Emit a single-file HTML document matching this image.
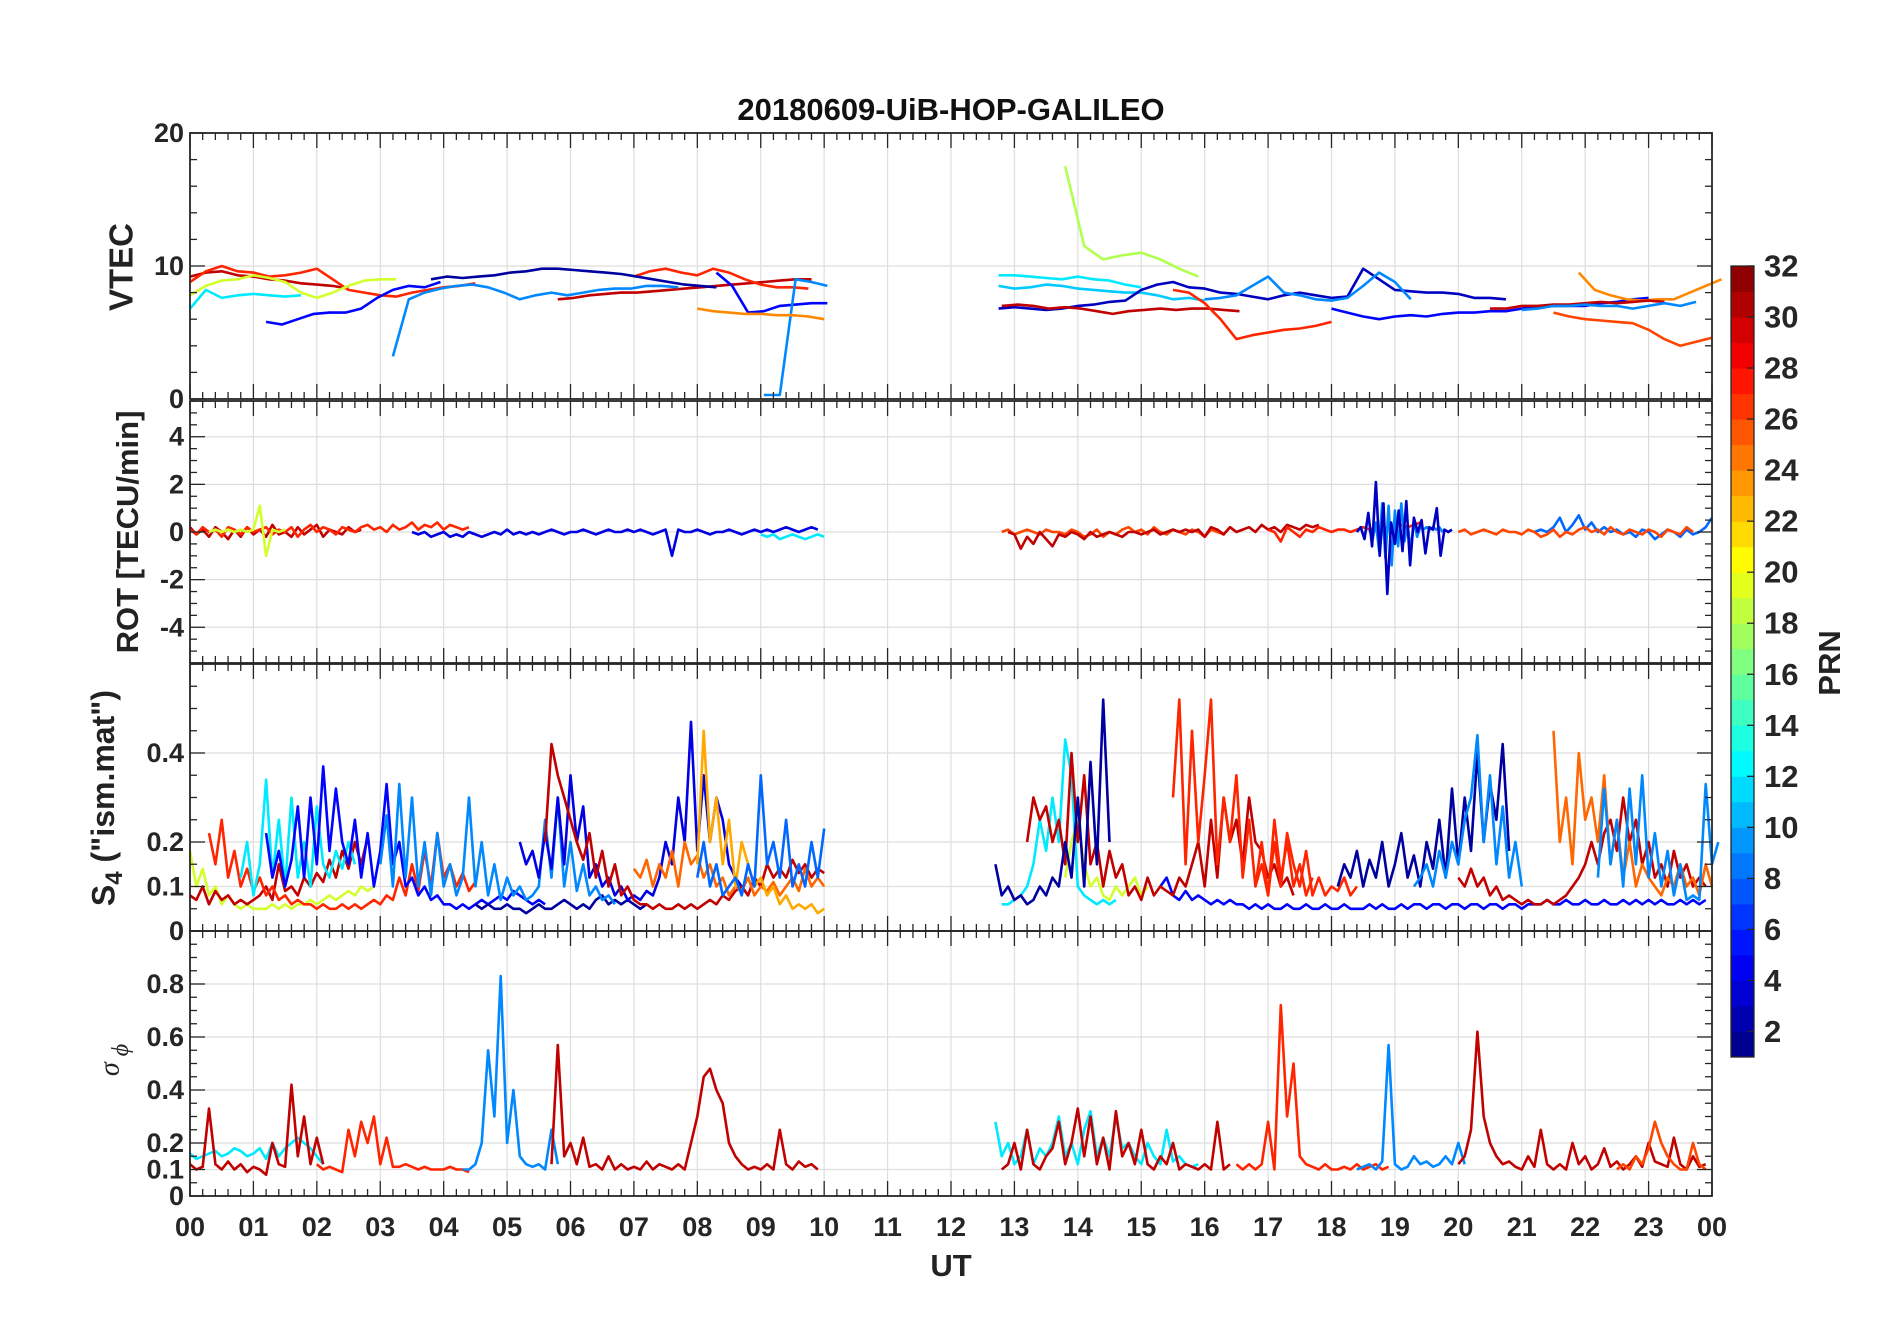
<!DOCTYPE html>
<html><head><meta charset="utf-8"><style>
html,body{margin:0;padding:0;background:#fff;}
svg{display:block;font-family:"Liberation Sans",Arial,sans-serif;}
</style></head><body>
<svg id="chart" width="1902" height="1330" viewBox="0 0 1902 1330">
<text x="951" y="120" text-anchor="middle" font-size="31" font-weight="bold" fill="#111">20180609-UiB-HOP-GALILEO</text>
<g id="panels"></g>
<text x="951" y="1276" text-anchor="middle" font-size="31" font-weight="bold" fill="#222">UT</text>
<text transform="translate(124,267) rotate(-90)" text-anchor="middle" font-size="33" font-weight="bold" fill="#222" dominant-baseline="middle">VTEC</text>
<text transform="translate(130,532) rotate(-90)" text-anchor="middle" font-size="31" font-weight="bold" fill="#222" dominant-baseline="middle">ROT [TECU/min]</text>
<text transform="translate(106,798) rotate(-90)" text-anchor="middle" font-size="32" font-weight="bold" fill="#222" dominant-baseline="middle">S<tspan font-size="24" dy="10">4</tspan><tspan dy="-10"> ("ism.mat")</tspan></text>
<text transform="translate(112,1060) rotate(-90)" text-anchor="middle" font-size="28" font-style="italic" font-family="Liberation Serif, serif" fill="#222" dominant-baseline="middle">σ<tspan font-size="24" dy="10"> ϕ</tspan></text>
<text transform="translate(1832,663) rotate(-90)" text-anchor="middle" font-size="31" font-weight="bold" fill="#222" dominant-baseline="middle">PRN</text>
<g id="cbar"></g>
</svg>
<script>
// ---------- data ----------
const hourLabels = ["00","01","02","03","04","05","06","07","08","09","10","11","12","13","14","15","16","17","18","19","20","21","22","23","00"];
const vtecTicks = [0,10,20];
const rotTicks = [-4,-2,0,2,4];
const s4Ticks = [0,0.1,0.2,0.4];
const sigTicks = [0,0.1,0.2,0.4,0.6,0.8];
const cbarTicks = [2,4,6,8,10,12,14,16,18,20,22,24,26,28,30,32];

// VTEC series (dt 0.25 h)
const vtec30a = [9.2,9.5,9.6,9.3,9.2,9.0,8.9,8.7,8.6,8.5,8.3];
const vtec30b = [7.5,7.6,7.8,7.9,8.0,8.0,8.1,8.2,8.3,8.4,8.5,8.6,8.7,8.8,8.9,9.0,9.0];
const vtec27a = [8.8,9.6,10.0,9.6,9.5,9.2,9.3,9.5,9.8,9.0,8.2,8.0,7.8,7.7,8.0,8.2,8.4,8.5,8.7];
const vtec27b = [9.2,9.6,9.8,9.5,9.3,9.8,9.5,9.0,8.6,8.4,8.4,8.3];
const vtec19a = [7.8,8.5,8.9,9.0,9.3,9.1,8.8,8.0,7.6,8.0,8.5,8.9,9.0,9.0];
const vtec12a = [6.8,8.2,7.6,7.8,7.9,7.8,7.7,7.8];
const vtec5a = [5.8,5.6,6.0,6.4,6.5,6.5,6.8,7.6,8.2,8.5,8.4,8.8];
const vtec2a = [9.0,9.2,9.1,9.2,9.3,9.5,9.6,9.8,9.8,9.7,9.6,9.5,9.4,9.2,9.0,8.8,8.6,8.5,8.4];
const vtec5b = [9.5,8.5,6.5,6.6,7.0,7.1,7.2,7.2];
const vtec9a = [3.2,7.5,8.0,8.3,8.5,8.6,8.4,8.0,7.5,7.8,8.0,7.8,8.0,8.2,8.3,8.3,8.5,8.5,8.4];
const vtec9b = [0.3,0.3,9.0,8.8,8.5];
const vtec24a = [6.8,6.6,6.5,6.4,6.4,6.3,6.3,6.2,6.0];
const vtec18a = [17.5,11.5,10.5,10.8,11.0,10.5,9.8,9.2];
const vtec12b = [9.3,9.3,9.2,9.1,9.0,9.2,9.0,8.9,8.6,8.4];
const vtec11a = [8.5,8.3,8.4,8.6,8.5,8.3,8.2,8.1,8.0,8.0,7.8,7.5,7.6,7.4];
const vtec3a = [6.8,6.9,6.8,6.7,6.8,7.0,7.1,7.3,7.4,8.2,8.6,8.8,8.4,8.3,8.0,7.9,7.7,7.5,7.8,8.0,7.8,7.6,7.7,9.8,9.0,8.2,8.1,8.0,8.0,7.9,7.6,7.6,7.5];
const vtec9c = [7.5,7.6,7.8,8.5,9.2,8.0,7.8,7.5,7.4,7.6,8.5,9.5,8.8,7.5];
const vtec5c = [6.8,6.5,6.2,6.0,6.2,6.3,6.2,6.4,6.5,6.5,6.6,6.6,6.8,6.9,7.0,7.0,7.0,7.2,7.3,7.5,7.6];
const vtec30c = [7.0,7.1,7.0,6.8,6.9,6.8,6.6,6.4,6.6,6.7,6.8,6.7,6.8,6.8,6.7,6.6];
const vtec27c = [8.2,8.0,7.2,6.0,4.5,4.8,5.0,5.2,5.3,5.5,5.8];
const vtec26a = [6.5,6.2,6.0,5.9,5.8,5.7,5.2,4.5,4.0,4.3,4.6];
const vtec24b = [9.5,8.2,7.8,7.5,7.4,7.5,7.5,8.0,8.5,9.0];
const vtec30d = [6.8,6.8,7.0,7.0,7.1,7.1,7.2,7.3,7.2,7.3,7.4,7.3];
const vtec9d = [6.7,6.8,7.0,7.0,7.1,7.0,7.0,6.8,7.0,7.2,7.0,7.3];

// ROT series (dt 0.1 h)
const rot27a = [0.1,-0.1,0.2,0.0,0.1,-0.2,0.2,0.1,-0.1,0.2,0.0,0.1,0.2,-0.1,0.1,0.0,0.2,-0.2,0.1,0.3,0.0,0.2,0.1,-0.1,0.2,0.1,0.0,0.2,0.3,0.1,0.2,0.0,0.3,0.1,0.2,0.4,0.1,0.3,0.2,0.4,0.1,0.3,0.2,0.1,0.2];
const rot30a = [0.2,-0.1,0.1,-0.2,0.2,0.0,-0.3,0.1,-0.2,0.2,-0.1,0.1,-0.2,0.3,-0.1,0.0,-0.2,0.2,-0.1,0.1,0.3,-0.2,0.1,0.0,-0.1,0.2,0.0,0.1];
const rot19a = [0.0,0.1,0.0,0.1,0.0,0.1,0.0,0.1,1.1,-1.0,0.1,0.0,0.1];
const rot4a = [0.0,-0.1,0.0,-0.2,-0.1,0.0,-0.2,-0.1,-0.2,0.0,-0.1,-0.2,-0.1,0.0,-0.1,0.1,-0.1,0.0,-0.1,0.0,-0.1,0.0,0.1,0.0,-0.1,0.0,0.0,0.1,0.0,-0.1,0.0,0.1,0.0,0.0,0.1,0.0,0.1,0.0,-0.1,0.0,0.1,-1.0,0.1,0.0,0.0,0.1,0.0,-0.1,0.0,0.0,0.1,0.0,-0.1,0.0,0.1,0.0,0.1,0.0,0.1,0.2,0.1,0.0,0.1,0.2,0.1];
const rot12a = [-0.1,-0.2,-0.1,-0.3,-0.2,-0.1,-0.2,-0.3,-0.2,-0.1,-0.2];
const rot30b = [0.0,-0.1,-0.7,-0.2,-0.5,0.0,-0.3,-0.6,-0.1,-0.2,0.0,-0.1,-0.3,0.0,-0.2,-0.1,0.0,-0.1,-0.2,0.0,0.0,-0.1,0.0,0.1,-0.1,0.0,0.1,0.0,0.1,0.0,0.1,-0.2,0.2,0.1,-0.1,0.2,0.0,0.1,0.2,0.0,0.3,0.1,0.2,0.0,0.3,0.2,0.1,0.3,0.2,0.3];
const rot27b = [0.1,0.0,-0.4,0.2,0.0,-0.2,0.1,0.0,0.2,0.1,0.0,0.1,0.1,0.0,0.1,0.2,0.1,0.2,0.1,0.2,0.2,0.3,0.2,0.3,0.4];
const rot3a = [0.0,0.2,-0.3,0.8,-0.6,2.1,-1.0,1.2,-2.6,0.4,-0.5,0.9,-0.8,1.3,-1.4,0.6,0.0,0.5,-0.9,0.2,0.1,1.0,-1.0,0.1,0.0,0.1];
const rot9a = [0.1,-0.3,0.4,-0.8,1.2,-1.1,1.1,-1.4,0.9,-0.6,1.2,-0.4,0.3,-0.8,0.5,-0.2,0.2,0.1,0.2,0.1,0.2,0.1,0.2,0.0];
const rot26a = [0.0,0.1,-0.1,0.0,0.1,0.0,-0.1,0.1,0.0,0.0,-0.1,0.1,0.0,-0.2,-0.1,0.1,-0.2,0.0,-0.1,0.1,0.2,0.0,0.1,-0.1,0.2,0.0,-0.1,0.1,0.0,-0.1,0.1,0.0,-0.2,0.1,0.0,-0.1,0.2,0.0];
const rot8a = [0.0,0.1,0.0,0.2,0.6,0.0,0.3,0.7,0.1,0.4,0.0,0.2,0.0,0.1,-0.1,0.0,-0.2,0.1,0.0,-0.3,-0.1,0.1,0.0,-0.2,0.1,-0.1,0.0,0.2,0.6];

// S4 series (dt 0.1 h)
const s4_27a = [0.22,0.15,0.25,0.12,0.18,0.1,0.14,0.09,0.12,0.08,0.1,0.07,0.08,0.06,0.07,0.06,0.06,0.05,0.06,0.05,0.05,0.06,0.05,0.06,0.05,0.06,0.07,0.06,0.08,0.07,0.12,0.08,0.15,0.09,0.18,0.1,0.22,0.12,0.15,0.1,0.13,0.09,0.11];
const s4_30a = [0.08,0.07,0.1,0.06,0.09,0.07,0.08,0.06,0.07,0.06,0.07,0.08,0.1,0.07,0.15,0.09,0.1,0.08,0.12,0.1,0.13,0.11,0.16,0.12,0.18,0.14,0.2,0.15,0.21];
const s4_12a = [0.12,0.2,0.08,0.15,0.34,0.12,0.25,0.1,0.3,0.12,0.2,0.1,0.28,0.15,0.12,0.18,0.14,0.2,0.15];
const s4_5a = [0.22,0.12,0.18,0.1,0.16,0.28,0.12,0.3,0.15,0.37,0.18,0.32,0.2,0.15,0.25,0.12,0.22,0.1,0.18,0.33,0.15,0.2,0.1,0.12,0.08,0.1,0.07,0.08,0.06,0.06,0.05,0.06,0.05,0.06,0.07,0.06,0.07,0.08,0.07,0.09,0.08,0.07,0.06,0.07,0.06];
const s4_9a = [0.15,0.26,0.1,0.33,0.12,0.3,0.1,0.2,0.08,0.22,0.1,0.15,0.08,0.12,0.3,0.1,0.2,0.08,0.15,0.07,0.12,0.08,0.1,0.07,0.08,0.1,0.25,0.12,0.3,0.1,0.2,0.09,0.15,0.08,0.1,0.07,0.08,0.06];
const s4_4a = [0.2,0.15,0.18,0.12,0.22,0.14,0.3,0.15,0.35,0.2,0.28,0.12,0.15,0.1,0.12,0.08,0.1,0.07,0.08,0.07,0.09,0.08,0.12,0.2,0.15,0.3,0.2,0.47,0.18,0.35,0.2,0.3,0.25,0.15,0.12,0.1,0.08];
const s4_30b = [0.2,0.42,0.35,0.3,0.25,0.2,0.16,0.22,0.12,0.18,0.1,0.15,0.08,0.1,0.07,0.06,0.06,0.05,0.06,0.05,0.05,0.06,0.05,0.06,0.05,0.06,0.07,0.06,0.08,0.07,0.09,0.1,0.08,0.12,0.1,0.15,0.12,0.14,0.12,0.16,0.13,0.15,0.12,0.14,0.13];
const s4_23a = [0.15,0.45,0.2,0.3,0.15,0.25,0.1,0.2,0.15,0.1,0.12,0.08,0.1,0.06,0.08,0.05,0.06,0.05,0.06,0.04,0.05];
const s4_25a = [0.14,0.12,0.16,0.1,0.15,0.12,0.18,0.1,0.2,0.15,0.17,0.12,0.15,0.1,0.12,0.08,0.1,0.09,0.12,0.08,0.1,0.09,0.11,0.08,0.1,0.12,0.09,0.14,0.1,0.12,0.1];
const s4_8a = [0.12,0.2,0.1,0.15,0.08,0.1,0.12,0.08,0.15,0.1,0.35,0.15,0.2,0.12,0.25,0.1,0.15,0.1,0.2,0.12,0.23];
const s4_2a = [0.06,0.05,0.06,0.05,0.05,0.06,0.05,0.05,0.04,0.05,0.06,0.05,0.05,0.06,0.07,0.06,0.05,0.06,0.05,0.07,0.08,0.06,0.07,0.06,0.07,0.06,0.05,0.06];
const s4_19a = [0.18,0.1,0.14,0.08,0.1,0.06,0.08,0.06,0.05,0.06,0.05,0.05,0.05,0.06,0.05,0.06,0.05,0.06,0.06,0.07,0.06,0.07,0.08,0.07,0.08,0.09,0.08,0.1,0.09,0.1];
const s4_30c = [0.2,0.3,0.25,0.28,0.2,0.25,0.15,0.4,0.2,0.35,0.15,0.2,0.1,0.18,0.12,0.15,0.08,0.1,0.07,0.12,0.08,0.1,0.09,0.08,0.12,0.1,0.15,0.2,0.1,0.25,0.12,0.3,0.2,0.25,0.15,0.3,0.2,0.18,0.12,0.15,0.1,0.12,0.08];
const s4_27b = [0.3,0.52,0.15,0.45,0.2,0.35,0.52,0.15,0.3,0.2,0.35,0.12,0.25,0.1,0.15,0.08,0.2,0.1,0.22,0.15,0.1,0.18,0.08,0.12,0.08,0.1,0.09,0.12,0.08,0.1];
const s4_12b = [0.06,0.06,0.07,0.08,0.1,0.15,0.25,0.18,0.3,0.2,0.43,0.35,0.1,0.08,0.07,0.06,0.07,0.06,0.07];
const s4_2b = [0.15,0.08,0.1,0.07,0.08,0.06,0.07,0.1,0.08,0.12,0.1,0.2,0.12,0.3,0.1,0.38,0.15,0.52,0.2];
const s4_5b = [0.1,0.12,0.08,0.07,0.09,0.07,0.08,0.07,0.06,0.07,0.06,0.07,0.06,0.06,0.05,0.06,0.05,0.06,0.05,0.05,0.06,0.05,0.05,0.06,0.05,0.05,0.06,0.05,0.05,0.06,0.05,0.05,0.05,0.06,0.05,0.06,0.05,0.05,0.06,0.05,0.06,0.06,0.05,0.06,0.06,0.05,0.06,0.06,0.05,0.06,0.06,0.05,0.06,0.06,0.05,0.06,0.06,0.05,0.06,0.06,0.06,0.07,0.06,0.06,0.07,0.06,0.06,0.07,0.06,0.06,0.07,0.06,0.06,0.07,0.06,0.07,0.06,0.07,0.06,0.07,0.06,0.06,0.07,0.06,0.07,0.06,0.07];
const s4_2c = [0.1,0.15,0.12,0.18,0.1,0.16,0.12,0.2,0.1,0.15,0.22,0.12,0.17,0.1,0.2,0.14,0.25,0.12,0.32,0.15,0.3,0.18,0.4,0.2,0.33,0.25,0.42,0.18];
const s4_9b = [0.1,0.12,0.15,0.1,0.18,0.12,0.2,0.15,0.25,0.3,0.44,0.2,0.35,0.15,0.28,0.12,0.2,0.1];
const s4_30d = [0.12,0.1,0.14,0.1,0.12,0.08,0.1,0.07,0.08,0.07,0.06,0.07,0.06,0.06,0.07,0.06,0.07,0.08,0.1,0.12,0.15,0.2,0.15,0.22,0.25,0.18,0.3,0.2,0.25,0.15,0.2,0.12,0.15,0.1,0.18,0.12,0.15,0.1,0.12,0.1];
const s4_25b = [0.45,0.2,0.3,0.15,0.4,0.25,0.3,0.2,0.35,0.15,0.25,0.12,0.2,0.1,0.15,0.12,0.1,0.08,0.12,0.1,0.15,0.1,0.12,0.08,0.15,0.1];
const s4_9c = [0.12,0.32,0.15,0.25,0.1,0.32,0.15,0.35,0.12,0.22,0.1,0.18,0.08,0.15,0.07,0.08,0.07,0.33,0.15,0.2];
const s4_27c = [0.1,0.2,0.08,0.25,0.12,0.2,0.1,0.15,0.08,0.12];
const s4_19b = [0.12,0.2,0.25,0.15,0.1,0.12,0.08,0.07,0.1,0.08,0.1,0.12,0.08,0.1];

// sigma-phi series (dt 0.1 h)
const sp12a = [0.16,0.14,0.15,0.16,0.17,0.15,0.16,0.18,0.17,0.15,0.16,0.18,0.14,0.2,0.15,0.18,0.2,0.22,0.2,0.18,0.15,0.12];
const sp30a = [0.12,0.1,0.11,0.33,0.12,0.1,0.13,0.1,0.12,0.09,0.11,0.1,0.08,0.2,0.12,0.11,0.42,0.15,0.3,0.12,0.22,0.12];
const sp27a = [0.12,0.1,0.11,0.1,0.09,0.25,0.15,0.28,0.2,0.3,0.12,0.22,0.11,0.11,0.12,0.11,0.1,0.11,0.1,0.1,0.1,0.11,0.1,0.1,0.09];
const sp9a = [0.1,0.1,0.12,0.2,0.55,0.3,0.83,0.2,0.4,0.15,0.12,0.11,0.12,0.1,0.25,0.12];
const sp30b = [0.12,0.57,0.15,0.2,0.12,0.22,0.11,0.12,0.1,0.15,0.1,0.12,0.1,0.11,0.1,0.13,0.1,0.12,0.11,0.1,0.12,0.1,0.2,0.3,0.45,0.48,0.4,0.35,0.2,0.15,0.12,0.1,0.11,0.1,0.12,0.1,0.25,0.12,0.1,0.13,0.11,0.12,0.1];
const sp12b = [0.28,0.15,0.2,0.12,0.15,0.25,0.12,0.18,0.15,0.2,0.3,0.15,0.2,0.12,0.25,0.32,0.15,0.22,0.15,0.3,0.18,0.2,0.15,0.12,0.2,0.15,0.12,0.25,0.13,0.15,0.12,0.11,0.12];
const sp30c = [0.1,0.12,0.2,0.1,0.25,0.12,0.1,0.15,0.18,0.28,0.12,0.2,0.33,0.15,0.3,0.12,0.22,0.1,0.32,0.15,0.2,0.12,0.25,0.12,0.1,0.15,0.12,0.2,0.1,0.12,0.11,0.1,0.12,0.1,0.28,0.1,0.12];
const sp27b = [0.12,0.1,0.12,0.1,0.12,0.28,0.1,0.72,0.3,0.5,0.15,0.12,0.11,0.1,0.12,0.1,0.1,0.11,0.1,0.12,0.1,0.11,0.12,0.1,0.11];
const sp9b = [0.1,0.11,0.12,0.1,0.13,0.57,0.12,0.1,0.11,0.15,0.12,0.13,0.11,0.12,0.15,0.12,0.2,0.12];
const sp30d = [0.12,0.15,0.25,0.62,0.3,0.2,0.15,0.12,0.13,0.11,0.1,0.15,0.11,0.25,0.12,0.1,0.12,0.1,0.2,0.12,0.15,0.1,0.12,0.18,0.11,0.13,0.1,0.12,0.15,0.11,0.2,0.13,0.12,0.11,0.22,0.12,0.1,0.15,0.11,0.12];
const sp26a = [0.1,0.12,0.1,0.15,0.12,0.18,0.28,0.2,0.15,0.12,0.1,0.1,0.2,0.12,0.1];

// ---------- layout ----------
const NS="http://www.w3.org/2000/svg";
const X0=190,X1=1712;
const xs=h=>X0+(X1-X0)*h/24;
function jet(p){const t=(p-1)/31;const c=v=>Math.round(255*Math.max(0,Math.min(1,v)));
 return `rgb(${c(1.5-Math.abs(4*t-3))},${c(1.5-Math.abs(4*t-2))},${c(1.5-Math.abs(4*t-1))})`;}
function el(tag,attrs,parent){const e=document.createElementNS(NS,tag);for(const k in attrs)e.setAttribute(k,attrs[k]);parent.appendChild(e);return e;}

const panels=[
 {name:"vtec",top:133,bot:399,min:0,max:20,ticks:vtecTicks,minor:2,grid:[10],dt:0.25,series:[
  [30,0,vtec30a],[30,5.8,vtec30b],[27,0,vtec27a],[27,7.0,vtec27b],[19,0,vtec19a],[12,0,vtec12a],[5,1.2,vtec5a],[2,3.8,vtec2a],[5,8.3,vtec5b],[9,3.2,vtec9a],[9,9.05,vtec9b],[24,8.0,vtec24a],
  [18,13.8,vtec18a,0.3],[12,12.75,vtec12b],[11,12.75,vtec11a],[3,12.75,vtec3a],[9,16,vtec9c],[5,18,vtec5c],[30,12.8,vtec30c],[27,15.5,vtec27c],[26,21.5,vtec26a],[24,21.9,vtec24b],[30,20.5,vtec30d],[9,21,vtec9d]]},
 {name:"rot",top:401,bot:663,min:-5.5,max:5.5,ticks:rotTicks,minor:0.5,grid:[-4,-2,0,2,4],dt:0.1,series:[
  [30,0,rot30a],[27,0,rot27a],[19,0.3,rot19a],[4,3.5,rot4a],[12,9.0,rot12a],[26,12.8,rot26a],[30,12.9,rot30b],[27,17.0,rot27b],[9,18.6,rot9a,0.05],[3,18.4,rot3a,0.06],[8,21.2,rot8a],[26,20.0,rot26a]]},
 {name:"s4",top:664,bot:931,min:0,max:0.6,ticks:s4Ticks,minor:0.05,grid:[0.1,0.2,0.4],dt:0.1,series:[
  [19,0,s4_19a],[30,0,s4_30a],[27,0.3,s4_27a],[12,0.8,s4_12a],[5,1.2,s4_5a],[2,4.5,s4_2a],[9,3.0,s4_9a],[4,5.2,s4_4a],[30,5.6,s4_30b],[25,7.0,s4_25a],[23,8.0,s4_23a],[8,8.0,s4_8a],
  [5,15.3,s4_5b],[19,13.8,s4_19b],[12,12.8,s4_12b],[30,13.2,s4_30c],[2,12.7,s4_2b],[27,15.5,s4_27b],[27,16.8,s4_27c],[2,18.1,s4_2c],[9,19.3,s4_9b],[30,20.0,s4_30d],[25,21.5,s4_25b],[9,22.2,s4_9c]]},
 {name:"sigma-phi",top:931,bot:1196,min:0,max:1,ticks:sigTicks,minor:0.05,grid:[0.1,0.2,0.4,0.6,0.8],dt:0.1,series:[
  [12,0,sp12a],[30,0,sp30a],[27,2.0,sp27a],[9,4.3,sp9a],[30,5.7,sp30b],[12,12.7,sp12b],[30,12.8,sp30c],[27,16.5,sp27b],[9,18.4,sp9b],[30,20.0,sp30d],[26,22.5,sp26a]]}
];

const root=document.getElementById("panels");
panels.forEach(P=>{
 const g=el("g",{},root);
 
 
 const ys=v=>P.bot-(P.bot-P.top)*(v-P.min)/(P.max-P.min);
 for(let h=1;h<24;h++){const l=el("line",{x1:xs(h),x2:xs(h),y1:P.top,y2:P.bot,stroke:"#dedede","stroke-width":1.2},g);
  }
 P.grid.forEach(v=>{const l=el("line",{x1:X0,x2:X1,y1:ys(v),y2:ys(v),stroke:"#dedede","stroke-width":1.2},g);
  });
 P.series.forEach(s=>{
  const [prn,t0,vals,dtOv]=s;const dt=dtOv||P.dt;
  const pts=vals.map((v,i)=>xs(t0+i*dt).toFixed(1)+","+ys(Math.max(P.min,Math.min(P.max,v))).toFixed(1)).join(" ");
  const pl=el("polyline",{points:pts,fill:"none",stroke:jet(prn),"stroke-width":2.6,"stroke-linejoin":"round"},g);
  
  
 });
 const b=el("rect",{x:X0,y:P.top,width:X1-X0,height:P.bot-P.top,fill:"none",stroke:"#262626","stroke-width":1.8},g);
 
 for(let i=0;i<=120;i++){const h=i/5;const major=i%5===0;const L=major?15:7;
  el("line",{x1:xs(h),x2:xs(h),y1:P.bot,y2:P.bot-L,stroke:"#262626","stroke-width":1.3},g);
  el("line",{x1:xs(h),x2:xs(h),y1:P.top,y2:P.top+L,stroke:"#262626","stroke-width":1.3},g);}
 const nMin=Math.round((P.max-P.min)/P.minor);
 for(let i=0;i<=nMin;i++){const v=P.min+i*P.minor;const major=P.ticks.some(t=>Math.abs(t-v)<1e-6);const L=major?15:7;
  el("line",{x1:X0,x2:X0+L,y1:ys(v),y2:ys(v),stroke:"#262626","stroke-width":1.3},g);
  el("line",{x1:X1,x2:X1-L,y1:ys(v),y2:ys(v),stroke:"#262626","stroke-width":1.3},g);}
 P.ticks.forEach(v=>{const t=el("text",{x:X0-6,y:ys(v),"text-anchor":"end","dominant-baseline":"central","font-size":27,"font-weight":"bold",fill:"#262626"},g);
  t.textContent=String(v);
  });
});
hourLabels.forEach((lab,i)=>{const t=el("text",{x:xs(i),y:1227,"text-anchor":"middle","dominant-baseline":"central","font-size":27,"font-weight":"bold",fill:"#262626"},root);
 t.textContent=lab;
 });

const cb=document.getElementById("cbar");


const CT=266,CB=1057,CX=1731,CW=23;
const cy=v=>CB-(CB-CT)*(v-1)/31;
for(let p=1;p<32;p++){const r=el("rect",{x:CX,y:cy(p+1),width:CW,height:cy(p)-cy(p+1)+0.5,fill:jet(p+0.5)},cb);
 }
el("rect",{x:CX,y:CT,width:CW,height:CB-CT,fill:"none",stroke:"#262626","stroke-width":1.3},cb);
cbarTicks.forEach(v=>{el("line",{x1:CX+CW-7,x2:CX+CW,y1:cy(v),y2:cy(v),stroke:"#262626","stroke-width":1.3},cb);
 const t=el("text",{x:1764,y:cy(v),"dominant-baseline":"central","font-size":31,"font-weight":"bold",fill:"#262626"},cb);
 t.textContent=String(v);
 });
</script>
</body></html>
